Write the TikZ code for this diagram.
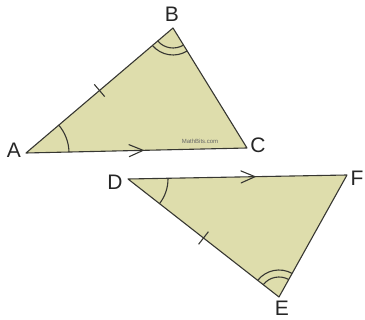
\documentclass[tikz,border=0pt]{standalone}
\usepackage{fontspec}
\setmainfont{Liberation Sans}
\usetikzlibrary{calc}
\definecolor{fillk}{RGB}{222,221,172}
\definecolor{edge}{RGB}{55,55,50}
\begin{document}
\begin{tikzpicture}[x=1pt,y=-1pt,
  tri/.style={draw=edge,fill=fillk,line width=1.1pt,line join=round},
  mk/.style={draw=edge,line width=1.1pt},
  lbl/.style={font=\fontsize{21}{21}\selectfont,text=black!85,inner sep=0pt}]
\useasboundingbox (0,0) rectangle (365,320);
\coordinate (A) at (26,153);
\coordinate (B) at (173,28);
\coordinate (C) at (247,148);
\coordinate (D) at (128,179);
\coordinate (F) at (347,175);
\coordinate (E) at (279,297);
\draw[tri] (A) -- (B) -- (C) -- cycle;
\draw[tri] (D) -- (F) -- (E) -- cycle;
% angle A
\draw[mk] ($(A)!43pt!(C)$) arc[start angle={atan2(-(148-153),247-26)}, end angle={atan2(-(28-153),173-26)}, radius=43pt];
% angle D
\draw[mk] ($(D)!40pt!(F)$) arc[start angle={atan2(-(175-179),347-128)}, end angle={atan2(-(297-179),279-128)}, radius=40pt];
% angle B double
\foreach \r in {20,27}{
\draw[mk] ($(B)!\r pt!(A)$) arc[start angle={atan2(-(153-28),26-173)}, end angle={atan2(-(148-28),247-173)}, radius=\r pt];
}
% angle E double
\foreach \r in {20,27}{
\draw[mk] ($(E)!\r pt!(D)$) arc[start angle={atan2(-(179-297),128-279)}, end angle={atan2(-(175-297),347-279)}, radius=\r pt];
}
% ticks
\coordinate (mAB) at ($(A)!0.5!(B)$);
\draw[mk] ($(mAB)!8pt!90:(B)$) -- ($(mAB)!8pt!-90:(B)$);
\coordinate (mDE) at ($(D)!0.5!(E)$);
\draw[mk] ($(mDE)!8pt!90:(E)$) -- ($(mDE)!8pt!-90:(E)$);
% chevrons
\coordinate (pAC) at ($(A)!0.53!(C)$);
\draw[mk,line cap=round] ($(pAC)!-14pt!(C)!6pt!90:(C)$) -- (pAC) -- ($(pAC)!-14pt!(C)!6pt!-90:(C)$);
\coordinate (pDF) at ($(D)!0.58!(F)$);
\draw[mk,line cap=round] ($(pDF)!-14pt!(F)!6pt!90:(F)$) -- (pDF) -- ($(pDF)!-14pt!(F)!6pt!-90:(F)$);
% labels
\node[lbl] (la) at (14,150) {A};
\node[lbl] (lb) at (172,14) {B};
\node[lbl] (lc) at (258,145) {C};
\node[lbl] (ld) at (115,182) {D};
\node[lbl] (lf) at (357,178) {F};
\node[lbl] (le) at (282,308) {E};
\node[font=\fontsize{6}{6}\selectfont,text=black!60,inner sep=0pt] (wm) at (200,141) {MathBits.com};
\end{tikzpicture}
\end{document}
